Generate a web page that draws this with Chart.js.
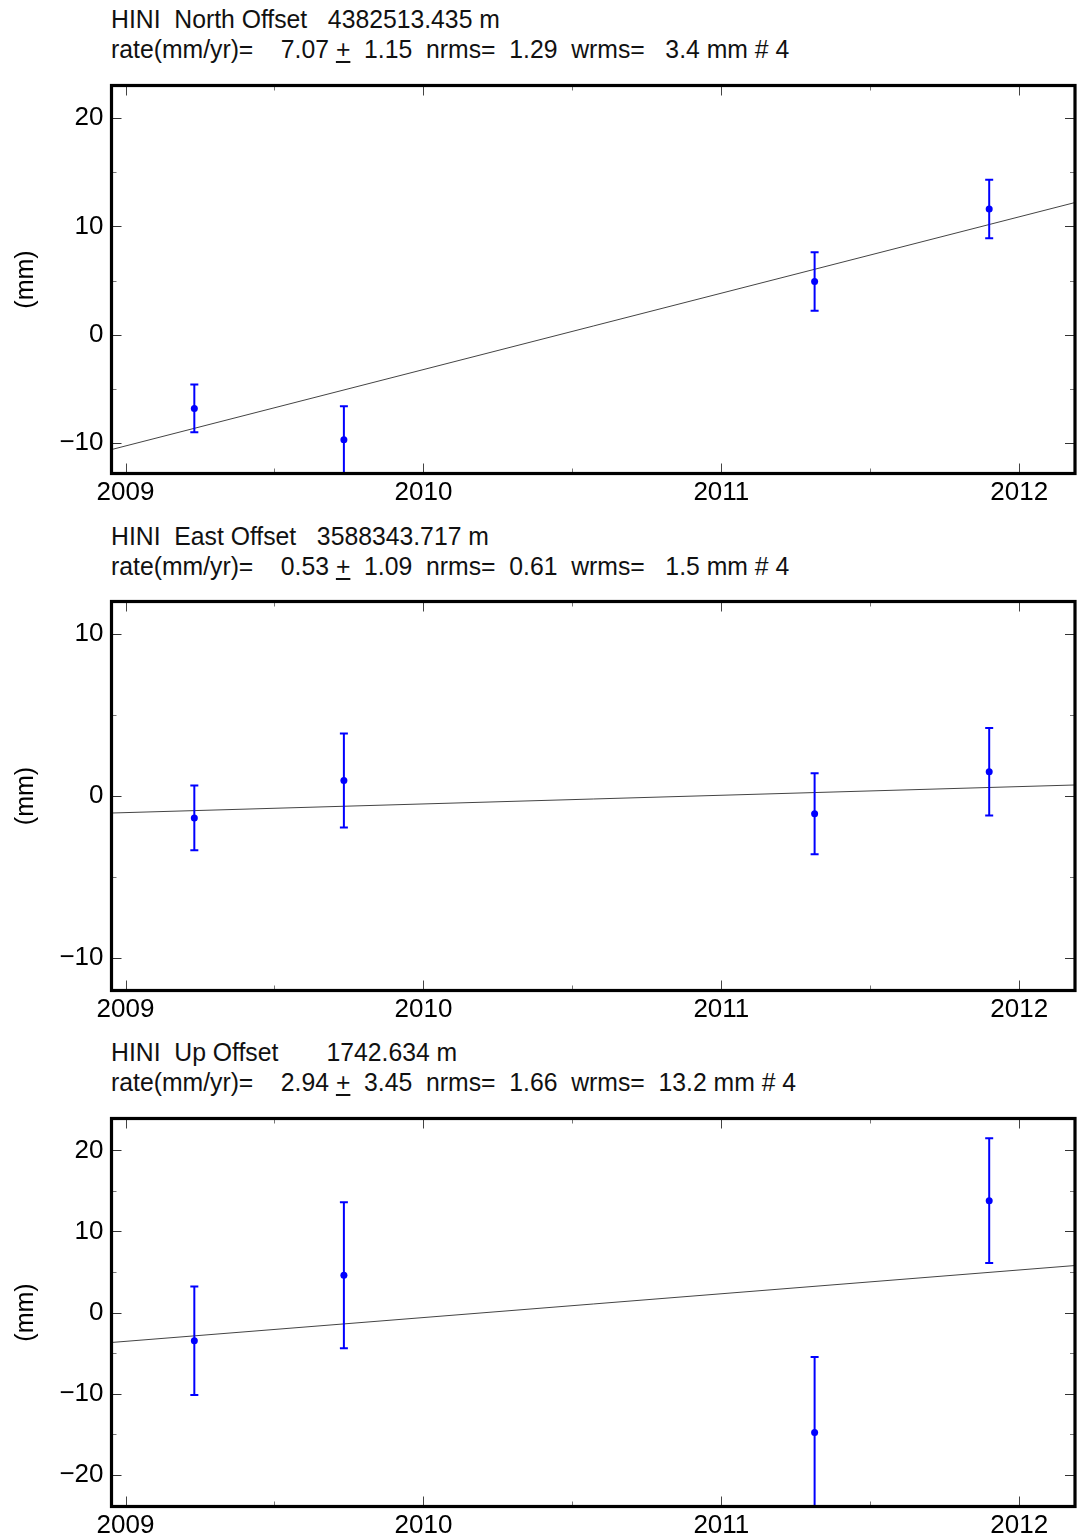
<!DOCTYPE html>
<html>
<head>
<meta charset="utf-8">
<script src="https://cdn.jsdelivr.net/npm/chart.js@4.4.1/dist/chart.umd.min.js"></script>
<style>
  html, body { margin: 0; padding: 0; background: #fff; overflow: hidden; }
  body { width: 1079px; height: 1539px; position: relative; font-family: "Liberation Sans", Arial, sans-serif; }
  .hdr { position: absolute; left: 111px; font-size: 26px; line-height: 26px; white-space: pre; color: #111;
         transform: scaleX(0.952); transform-origin: 0 0; }
  .hdr u { text-decoration: underline; text-underline-offset: 3px; }
  canvas { position: absolute; left: 0; }
</style>
</head>
<body>
<div class="hdr" style="top:6px">HINI  North Offset   4382513.435 m</div>
<div class="hdr" style="top:36px">rate(mm/yr)=    7.07 <u>+</u>  1.15  nrms=  1.29  wrms=   3.4 mm # 4</div>
<div class="hdr" style="top:523px">HINI  East Offset   3588343.717 m</div>
<div class="hdr" style="top:553px">rate(mm/yr)=    0.53 <u>+</u>  1.09  nrms=  0.61  wrms=   1.5 mm # 4</div>
<div class="hdr" style="top:1039px">HINI  Up Offset       1742.634 m</div>
<div class="hdr" style="top:1069px">rate(mm/yr)=    2.94 <u>+</u>  3.45  nrms=  1.66  wrms=  13.2 mm # 4</div>

<canvas id="chartNorth" style="top:74px" width="1079" height="440"></canvas>
<canvas id="chartEast" style="top:590px" width="1079" height="441"></canvas>
<canvas id="chartUp" style="top:1107px" width="1079" height="440"></canvas>

<script>
"use strict";
// data
const epochs = [2009.231, 2009.733, 2011.313, 2011.899];
const xTicks = [2009, 2010, 2011, 2012];
const xMin = 2008.953, xMax = 2012.187;

const northVals = [-6.8, -9.7, 4.9, 11.6];
const northErr = [2.2, 3.1, 2.7, 2.7];
const northFit = [-10.6, 12.2];
const northTicks = [-10, 0, 10, 20];

const eastVals = [-1.35, 0.95, -1.1, 1.5];
const eastErr = [2.0, 2.9, 2.5, 2.7];
const eastFit = [-1.05, 0.68];
const eastTicks = [-10, 0, 10];

const upVals = [-3.5, 4.6, -14.8, 13.8];
const upErr = [6.7, 9.0, 9.3, 7.7];
const upFit = [-3.7, 5.8];
const upTicks = [-20, -10, 0, 10, 20];

const blue = "rgb(0,0,255)";
const font = "'Liberation Sans', Arial, sans-serif";

// error bars + frame + inward ticks
const framePlugin = {
    id: "frame",
    afterDatasetsDraw(chart) {
        const ctx = chart.ctx;
        const a = chart.chartArea;
        const xs = chart.scales.x, ys = chart.scales.y;
        const errs = chart.options.plugins.frame.errs;
        const ds = chart.data.datasets[1];
        ctx.save();
        ctx.beginPath();
        ctx.rect(a.left, a.top, a.right - a.left, a.bottom - a.top);
        ctx.clip();
        ctx.strokeStyle = blue;
        ctx.lineWidth = 2;
        ds.data.forEach((p, i) => {
            const px = xs.getPixelForValue(p.x);
            const y1 = ys.getPixelForValue(p.y + errs[i]);
            const y2 = ys.getPixelForValue(p.y - errs[i]);
            ctx.beginPath();
            ctx.moveTo(px, y1); ctx.lineTo(px, y2);
            ctx.moveTo(px - 4, y1); ctx.lineTo(px + 4, y1);
            ctx.moveTo(px - 4, y2); ctx.lineTo(px + 4, y2);
            ctx.stroke();
        });
        ctx.restore();
    },
    afterDraw(chart) {
        const ctx = chart.ctx;
        const a = chart.chartArea;
        const xs = chart.scales.x, ys = chart.scales.y;
        ctx.save();
        ctx.lineWidth = 1;
        // x ticks, major at years, minor at half years
        for (let v = 2009; v <= 2012.01; v += 0.5) {
            const px = Math.round(xs.getPixelForValue(v)) + 0.5;
            const major = Math.abs(v - Math.round(v)) < 0.01;
            const len = major ? 10 : 5;
            ctx.strokeStyle = major ? "#444" : "#777";
            ctx.beginPath();
            ctx.moveTo(px, a.top); ctx.lineTo(px, a.top + len);
            ctx.moveTo(px, a.bottom); ctx.lineTo(px, a.bottom - len);
            ctx.stroke();
        }
        // y ticks, major every 10, minor every 5
        for (let v = -25; v <= 25; v += 5) {
            if (v < ys.min || v > ys.max) continue;
            const py = Math.round(ys.getPixelForValue(v)) + 0.5;
            const major = v % 10 === 0;
            const len = major ? 10 : 5;
            ctx.strokeStyle = major ? "#333" : "#777";
            ctx.beginPath();
            ctx.moveTo(a.left, py); ctx.lineTo(a.left + len, py);
            ctx.moveTo(a.right, py); ctx.lineTo(a.right - len, py);
            ctx.stroke();
        }
        ctx.strokeStyle = "#000";
        ctx.lineWidth = 3.2;
        ctx.strokeRect(a.left, a.top, a.right - a.left, a.bottom - a.top);
        ctx.restore();
    }
};

function makePanel(id, vals, errs, fit, yMin, yMax, yTicks) {
    const pts = epochs.map((x, i) => ({ x: x, y: vals[i] }));
    return new Chart(document.getElementById(id), {
        type: "scatter",
        data: {
            datasets: [
                {
                    type: "line",
                    data: [{ x: xMin, y: fit[0] }, { x: xMax, y: fit[1] }],
                    borderColor: "#444",
                    borderWidth: 1,
                    pointRadius: 0
                },
                {
                    data: pts,
                    backgroundColor: blue,
                    borderColor: blue,
                    pointRadius: 3.5,
                    pointBorderWidth: 0
                }
            ]
        },
        options: {
            responsive: false,
            animation: false,
            layout: { padding: { top: 11.5, right: 0, left: 0, bottom: 0 } },
            plugins: {
                legend: { display: false },
                tooltip: { enabled: false },
                frame: { errs: errs }
            },
            scales: {
                x: {
                    type: "linear",
                    min: xMin,
                    max: xMax,
                    afterBuildTicks: (s) => { s.ticks = xTicks.map(v => ({ value: v })); },
                    afterFit: (s) => { s.height = 40.5; s.paddingLeft = 0; s.paddingRight = 0; },
                    grid: { display: false, drawTicks: false },
                    border: { display: false },
                    ticks: {
                        padding: 4,
                        color: "#000",
                        maxRotation: 0,
                        font: { family: font, size: 26 },
                        callback: (v) => String(v)
                    }
                },
                y: {
                    min: yMin,
                    max: yMax,
                    afterBuildTicks: (s) => { s.ticks = yTicks.map(v => ({ value: v })); },
                    afterFit: (s) => { s.width = 111.5; s.paddingTop = 0; s.paddingBottom = 0; },
                    grid: { display: false, drawTicks: false },
                    border: { display: false },
                    title: {
                        display: true,
                        text: "(mm)",
                        color: "#000",
                        font: { family: font, size: 25 },
                        padding: { top: 11, bottom: 0 }
                    },
                    ticks: {
                        padding: 8,
                        color: "#000",
                        font: { family: font, size: 26 },
                        callback: (v) => v < 0 ? "\u2212" + Math.abs(v) : String(v)
                    }
                }
            }
        },
        plugins: [framePlugin]
    });
}

makePanel("chartNorth", northVals, northErr, northFit, -12.81, 23.0, northTicks);
makePanel("chartEast", eastVals, eastErr, eastFit, -12.0, 12.0, eastTicks);
makePanel("chartUp", upVals, upErr, upFit, -23.95, 23.95, upTicks);
</script>
</body>
</html>
